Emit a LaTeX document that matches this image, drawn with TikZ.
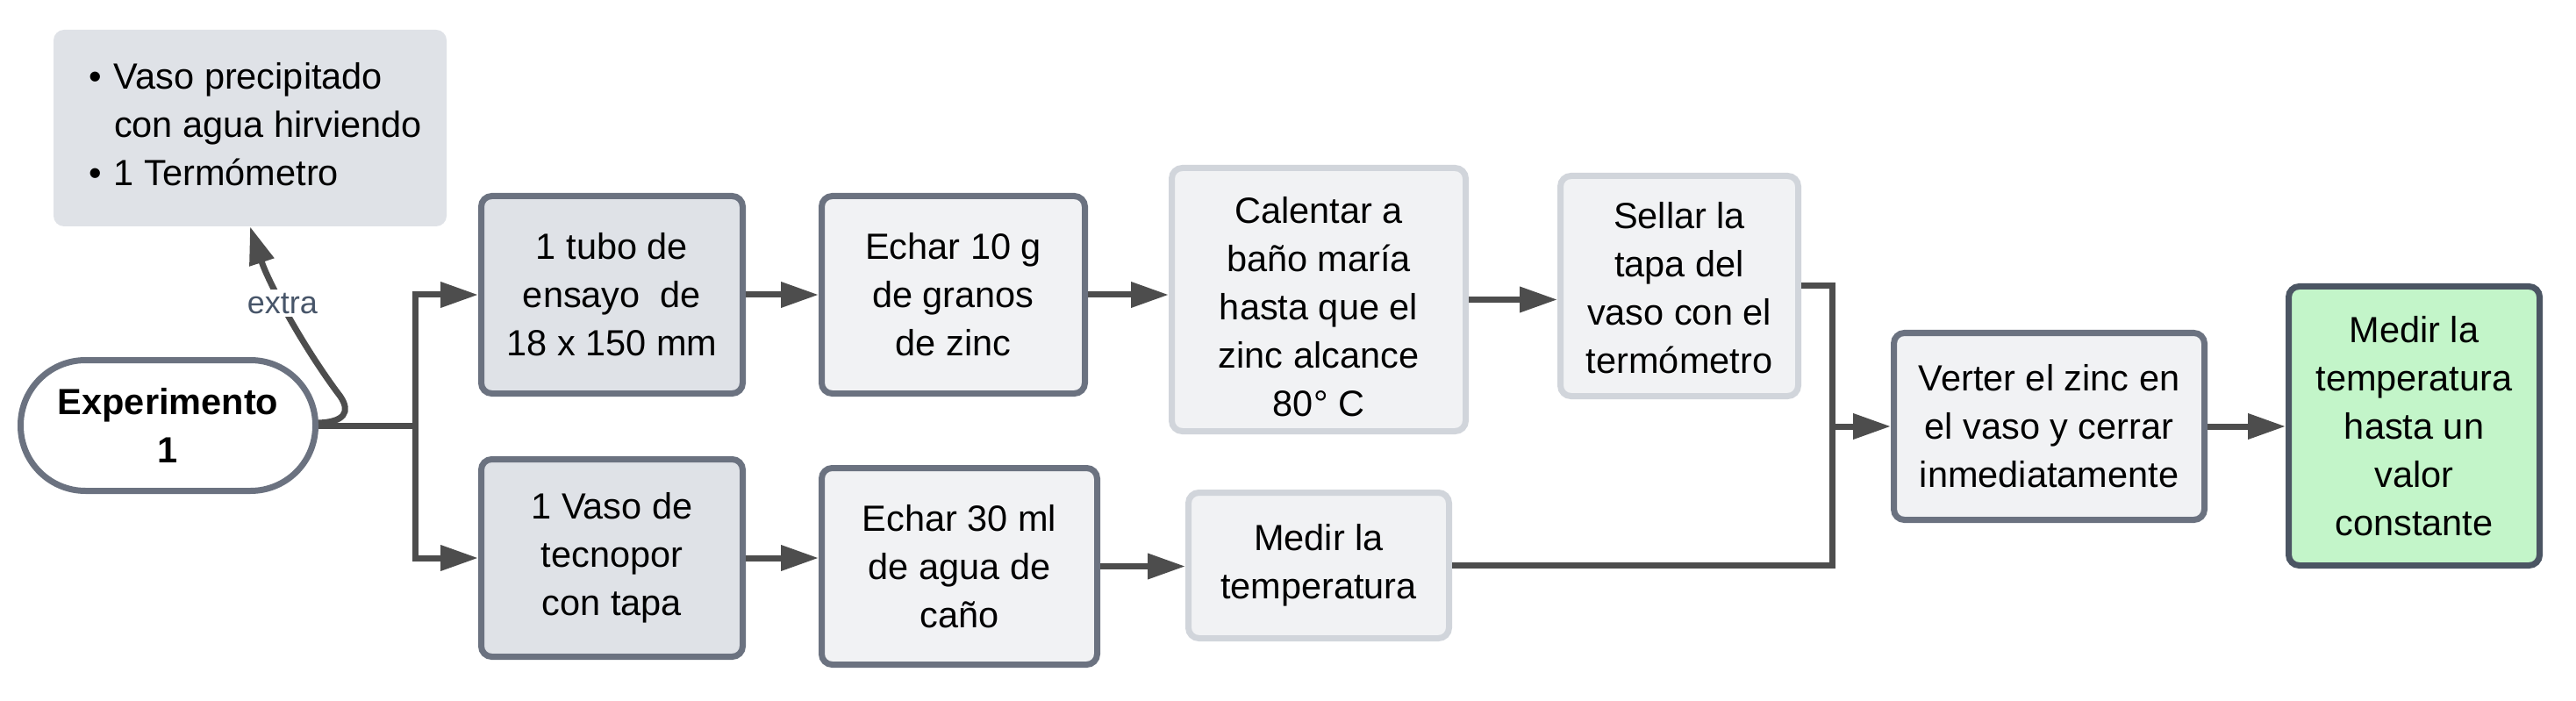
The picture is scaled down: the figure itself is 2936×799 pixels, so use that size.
\documentclass[tikz,border=0pt]{standalone}
\usepackage{fontspec}
\setmainfont{Liberation Sans}
\usetikzlibrary{arrows.meta}
\definecolor{gbord}{HTML}{6B7280}
\definecolor{lbord}{HTML}{D1D5DB}
\definecolor{dbord}{HTML}{4B5563}
\definecolor{fillA}{HTML}{DFE2E7}
\definecolor{fillB}{HTML}{F1F2F4}
\definecolor{fillG}{HTML}{C3F5C9}
\definecolor{linec}{HTML}{4D4D4D}
\definecolor{labc}{HTML}{475569}
\tikzset{
  basebox/.style={rectangle, rounded corners=12pt, line width=7pt, inner sep=0pt,
    align=center, font=\fontsize{41.5}{55}\selectfont},
  darkbox/.style={basebox, draw=gbord, fill=fillA},
  midbox/.style={basebox, draw=gbord, fill=fillB},
  softbox/.style={basebox, draw=lbord, fill=fillB},
  greenbox/.style={basebox, draw=dbord, fill=fillG},
  link/.style={line width=7pt, draw=linec},
  conn/.style={link, -{Triangle[length=43pt,width=28pt]}},
  extralabel/.style={fill=white, text=labc, inner sep=4pt, font=\fontsize{36}{40}\selectfont}
}
\begin{document}
\begin{tikzpicture}[x=1pt,y=-1pt]
\fill[white] (0,0) rectangle (2936,799);
\useasboundingbox (0,0) rectangle (2936,799);

% material box
\node[rectangle, rounded corners=12pt, fill=fillA, inner sep=0pt, minimum width=448pt, minimum height=224pt,
  font=\fontsize{41.5}{55}\selectfont] (mat) at (285,146)
  {\makebox[368pt][l]{\begin{tabular}{@{}l@{}}\makebox[29pt][l]{•}Vaso precipitado\\\hspace*{29pt}con agua hirviendo\\\makebox[29pt][l]{•}1 Termómetro\end{tabular}}};

% start pill
\node[rectangle, rounded corners=74pt, draw=gbord, fill=white, line width=7pt, inner sep=0pt,
  minimum width=336pt, minimum height=149pt, align=center,
  font=\fontsize{41.5}{55}\selectfont\bfseries] (pill) at (191.5,485) {Experimento\\1};

% process boxes
\node[darkbox, minimum width=298pt, minimum height=225pt] (A) at (697.5,336) {1 tubo de\\ensayo\ \ de\\18 x 150 mm};
\node[midbox, minimum width=300pt, minimum height=225pt] (B) at (1086.5,336) {Echar 10 g\\de granos\\de zinc};
\node[softbox, minimum width=335pt, minimum height=300pt] (C) at (1503,341.5) {\rule{0pt}{46pt}Calentar a\\baño maría\\hasta que el\\zinc alcance\\80° C};
\node[softbox, minimum width=271pt, minimum height=251pt] (D) at (1914,326) {\rule{0pt}{34pt}Sellar la\\tapa del\\vaso con el\\termómetro};
\node[darkbox, minimum width=298pt, minimum height=225pt] (E) at (697.5,636) {1 Vaso de\\tecnopor\\con tapa};
\node[midbox, minimum width=314pt, minimum height=224pt] (F) at (1093.5,645.5) {Echar 30 ml\\de agua de\\caño};
\node[softbox, minimum width=297pt, minimum height=166pt] (G) at (1503,644.5) {Medir la\\temperatura};
\node[midbox, minimum width=354pt, minimum height=213pt] (H) at (2335.5,486) {Verter el zinc en\\el vaso y cerrar\\inmediatamente};
\node[greenbox, minimum width=286pt, minimum height=318pt] (I) at (2751.5,485.5) {Medir la\\temperatura\\hasta un\\valor\\constante};

% split from start
\coordinate (sp) at (473,485);
\draw[link] (pill.east) -- (sp);
\draw[conn] (sp) |- (A.west);
\draw[conn] (sp) |- (E.west);

% extra connector
\draw[conn] ([yshift=3pt]pill.east) .. controls (392,481) and (400,470) .. (388,452)
  .. controls (345,395) and (306,322) .. (mat.south)
  node[extralabel, pos=0.56] (extra) {extra};

% rows
\draw[conn] (A.east) -- (B.west);
\draw[conn] (B.east) -- (B.east -| C.west);
\draw[conn] (C.east) -- (C.east -| D.west);
\draw[conn] (E.east) -- (E.east -| F.west);
\draw[conn] (F.east) -- (F.east -| G.west);

% merge
\coordinate (jn) at (2088,486);
\draw[link] (D.east) -| (jn);
\draw[link] (G.east) -| (jn);
\draw[conn] (jn) -- (H.west);
\draw[conn] (H.east) -- (H.east -| I.west);
\end{tikzpicture}
\end{document}
